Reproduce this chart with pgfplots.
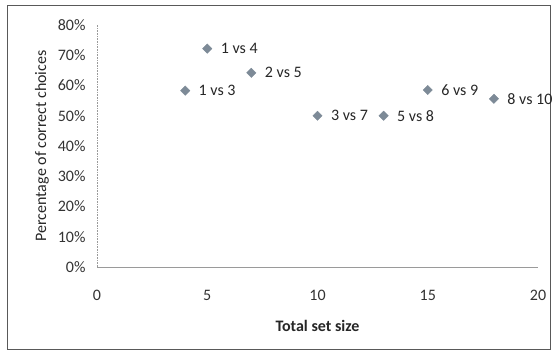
\documentclass[border=0pt]{standalone}
\usepackage{pgfplots}
\pgfplotsset{compat=1.18}
\usepackage{fontspec}
\setmainfont{Carlito}
\definecolor{mk}{HTML}{7D8A97}
\definecolor{ax}{HTML}{9A9A9A}
\newcommand{\chartfont}{\fontsize{16}{18}\selectfont}
\begin{document}
\begin{tikzpicture}
% page area and chart frame
\path (0pt,0pt) rectangle (557pt,354pt);
\draw[black!65, line width=0.8pt] (7pt,5pt) rectangle (550pt,349pt);
\begin{axis}[
  at={(97pt,87pt)}, anchor=south west,
  scale only axis, width=441pt, height=242pt,
  xmin=0, xmax=20, ymin=0, ymax=0.8,
  xtick={0,5,...,20}, ytick={0,0.1,...,0.8},
  yticklabel={\pgfmathparse{\tick*100}\pgfmathprintnumber[fixed,precision=0]{\pgfmathresult}\%},
  /pgf/number format/assume math mode=true,
  axis x line*=bottom, axis y line*=left,
  axis line style={ax, line width=0.6pt, -},
  y axis line style={densely dotted},
  major tick length=0pt,
  tick label style={font=\chartfont, black!80},
  xticklabel style={yshift=-20pt},
  yticklabel style={xshift=-8pt},
  xlabel={\bfseries Total set size},
  ylabel={Percentage of correct choices},
  label style={font=\chartfont, black!85},
  xlabel style={yshift=-12pt},
  ylabel style={yshift=2pt},
  clip=false,
]
\addplot[only marks, mark=square*, mark size=3.3pt, mk,
  mark options={fill=mk, draw=mk, rotate=45},
  nodes near coords, point meta=explicit symbolic,
  every node near coord/.style={anchor=west, xshift=10pt, font=\chartfont, black!85}]
  table[meta=label, col sep=comma] {
x,y,label
4,0.583,1 vs 3
5,0.722,1 vs 4
7,0.642,2 vs 5
10,0.50,3 vs 7
13,0.50,5 vs 8
15,0.585,6 vs 9
18,0.556,8 vs 10
};
\end{axis}
\end{tikzpicture}
\end{document}
